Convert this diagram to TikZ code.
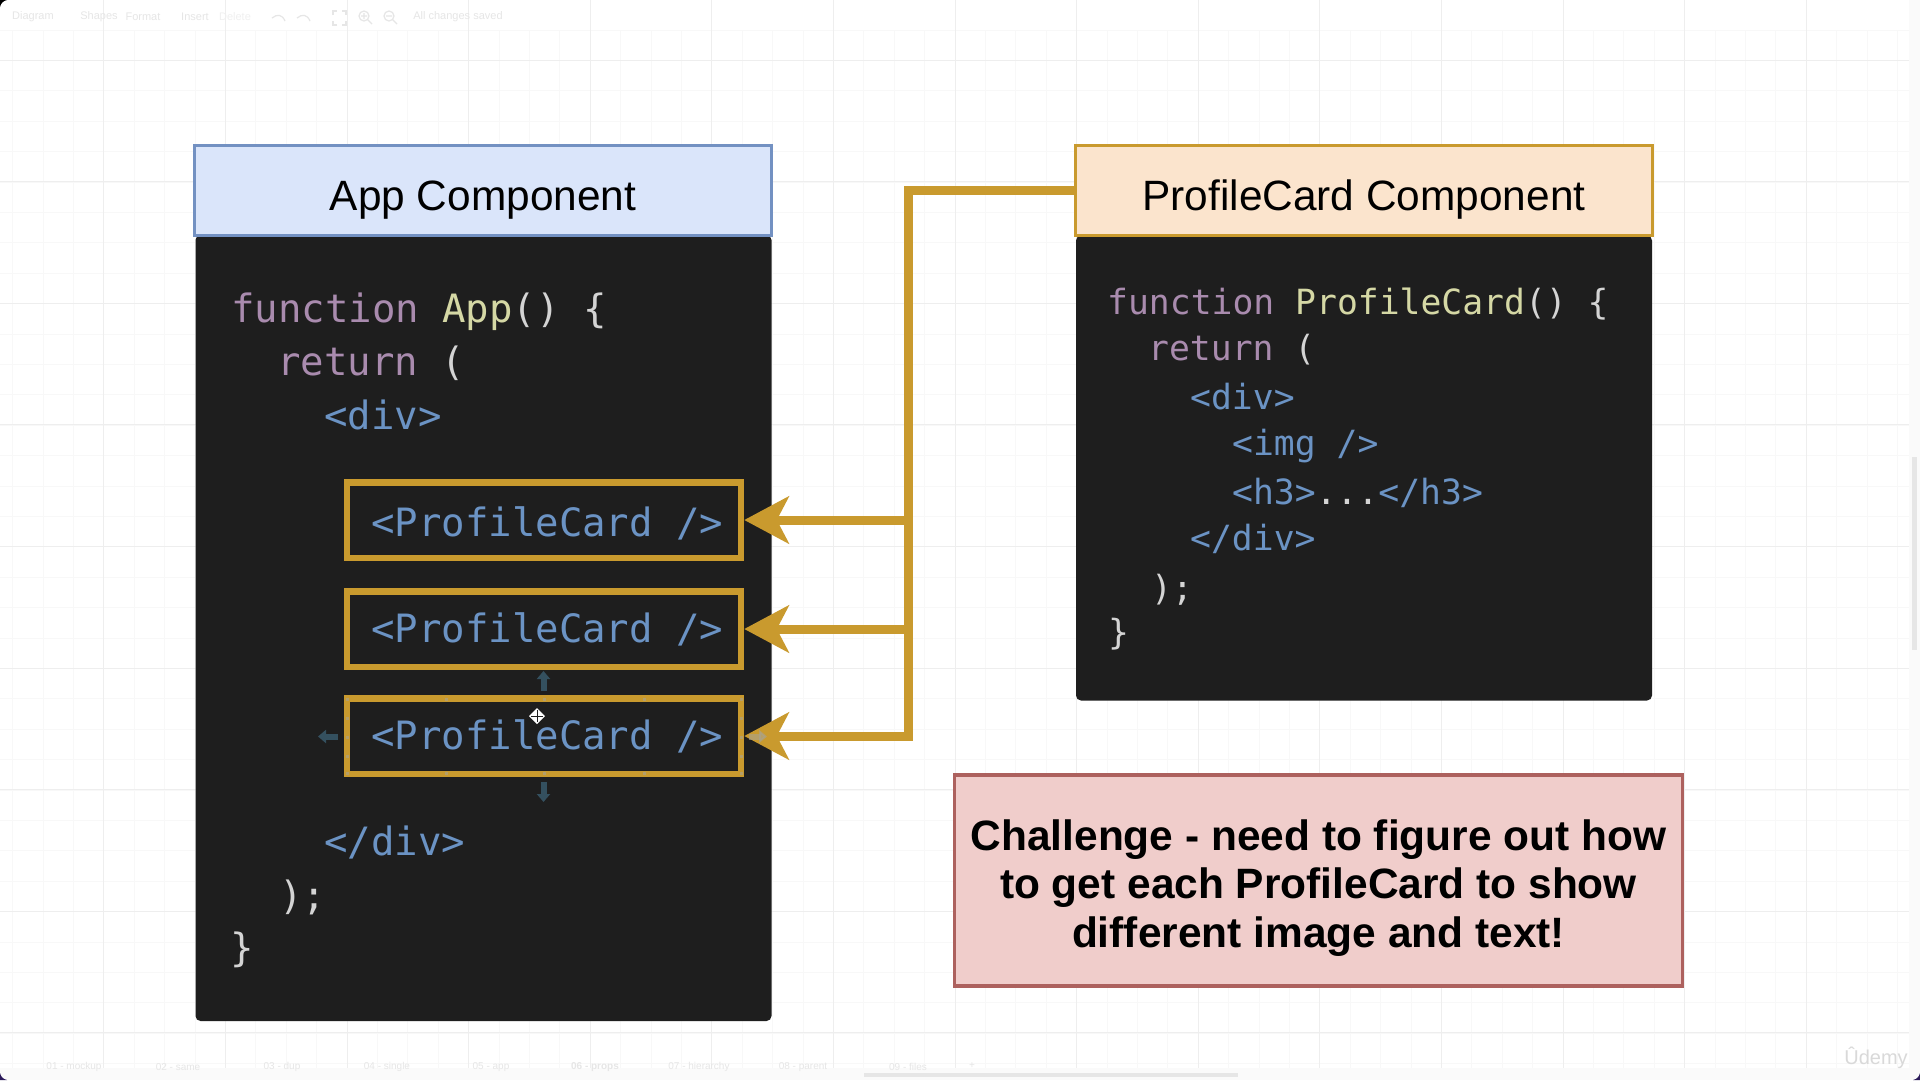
\documentclass[tikz,border=0pt]{standalone}
\usepackage{fontspec}
\setmainfont{Liberation Sans}
\setmonofont{DejaVu Sans Mono}
\usepackage{tikz}
\usetikzlibrary{arrows.meta}
\definecolor{appfill}{HTML}{DAE5FA}
\definecolor{appedge}{HTML}{7391C2}
\definecolor{cardfill}{HTML}{FBE4CD}
\definecolor{gold}{HTML}{C99A2E}
\definecolor{notefill}{HTML}{F0CDCB}
\definecolor{noteedge}{HTML}{AD615E}
\definecolor{editor}{HTML}{1E1E1E}
\definecolor{kwpurple}{HTML}{A98BAE}
\definecolor{fnyellow}{HTML}{D5D8A5}
\definecolor{tagblue}{HTML}{6B93C4}
\definecolor{plain}{HTML}{D4D4D4}
\definecolor{gridmajor}{HTML}{EEEEEE}
\definecolor{gridminor}{HTML}{F8F8F8}
\definecolor{faint}{HTML}{E6E6E6}
\definecolor{gutter}{HTML}{FAFAFA}
\definecolor{handle}{HTML}{34505F}
\definecolor{grip}{HTML}{A8A390}
\definecolor{corner}{HTML}{2B1A5A}
\tikzstyle{header}=[rectangle, draw, line width=3pt, minimum height=90pt, minimum width=577pt, text=black, font=\fontsize{42.4}{48}\selectfont, text height=39.5pt, text depth=0pt]
\tikzstyle{editorbox}=[rectangle, rounded corners=5pt, fill=editor, minimum width=576pt, inner sep=0pt]
\tikzstyle{cardbox}=[rectangle, draw=gold, line width=6.5pt, minimum height=75.5pt, minimum width=394pt]
\tikzstyle{codebig}=[anchor=base west, inner sep=0pt, font=\ttfamily\fontsize{39}{39}\selectfont]
\tikzstyle{codesmall}=[anchor=base west, inner sep=0pt, font=\ttfamily\fontsize{34.7}{35}\selectfont]
\tikzstyle{note}=[rectangle, draw=noteedge, fill=notefill, line width=3.5pt, minimum height=211pt, minimum width=728pt]
\tikzstyle{notetext}=[align=center, inner sep=0pt, font=\bfseries\fontsize{42.45}{48.5}\selectfont]
\tikzstyle{trunk}=[draw=gold, line width=9pt]
\tikzstyle{feed}=[draw=gold, line width=9pt, -{Stealth[length=44.5pt,width=47pt,inset=12pt]}]
\tikzstyle{chrome}=[inner sep=0pt, text=faint, font=\fontsize{11}{12}\selectfont]
\tikzstyle{tabname}=[inner sep=0pt, text=faint, font=\fontsize{10}{12}\selectfont]
\tikzstyle{nudge}=[draw=handle, line width=6pt, -{Triangle[length=8pt,width=13pt]}]
\tikzstyle{toolicon}=[draw=faint, line width=1.2pt]
\newcommand{\codebig}[4]{
	\node[codebig] (#1) at (#2) {\textcolor{#3}{#4}};}
\newcommand{\codesmall}[4]{
	\node[codesmall] (#1) at (#2) {\textcolor{#3}{#4}};}
\newcommand{\chromelabel}[3]{
	\node[chrome] (#1) at (#2) {#3};}
\newcommand{\tablabel}[3]{
	\node[tabname] (#1) at (#2) {#3};}
\begin{document}
\begin{tikzpicture}[x=1pt,y=-1pt]
	\useasboundingbox (0,0) rectangle (1920,1080);
	\fill[white] (0,0) rectangle (1920,1080);
	% grid
	\foreach \gx in {0,...,64} {
		\draw[gridminor, line width=1pt] ({-17.7+30.4*\gx},30) -- ({-17.7+30.4*\gx},1068);}
	\foreach \gy in {0,...,34} {
		\draw[gridminor, line width=1pt] (0,{30+30.4*\gy}) -- (1920,{30+30.4*\gy});}
	\foreach \gx in {0,...,16} {
		\draw[gridmajor, line width=1pt] ({-17.7+121.6*\gx},0) -- ({-17.7+121.6*\gx},1068);}
	\foreach \gy in {0,...,8} {
		\draw[gridmajor, line width=1pt] (0,{60+121.6*\gy}) -- (1920,{60+121.6*\gy});}
	\fill[gutter] (1909,0) rectangle (1920,1080);
	\fill[gutter] (0,1068) rectangle (1920,1080);
	\fill[faint] (1912,457) rectangle (1917,650);
	\fill[faint] (864,1073) rectangle (1238,1077);
	% editor chrome
	\chromelabel{chdiagram}{33,17}{Diagram}
	\chromelabel{chshapes}{99,17}{Shapes}
	\chromelabel{chformat}{143,17}{Format}
	\chromelabel{chinsert}{195,17}{Insert}
	\node[chrome, text=gutter!50!faint] (chdelete) at (235,17) {Delete};
	\chromelabel{chsaved}{458,17}{All changes saved}
	\draw[toolicon] (285,21) .. controls (282,14) and (277,14) .. (272,18);
	\draw[toolicon] (297,18) .. controls (302,14) and (307,14) .. (310,21);
	\draw[toolicon] (333,15) -- (333,11) -- (337,11) (342,11) -- (346,11) -- (346,15) (346,21) -- (346,25) -- (342,25) (337,25) -- (333,25) -- (333,21);
	\draw[toolicon] (364,16) circle[radius=5pt] (368,20) -- (372,24) (361,16) -- (367,16) (364,13) -- (364,19);
	\draw[toolicon] (389,16) circle[radius=5pt] (393,20) -- (397,24) (386,16) -- (392,16);
	\tablabel{tabone}{74,1067}{01 - mockup}
	\tablabel{tabtwo}{178,1067}{02 - same}
	\tablabel{tabthree}{282,1067}{03 - dup}
	\tablabel{tabfour}{387,1067}{04 - single}
	\tablabel{tabfive}{491,1067}{05 - app}
	\tablabel{tabsix}{595,1067}{\bfseries 06 - props}
	\tablabel{tabseven}{699,1067}{07 - hierarchy}
	\tablabel{tabeight}{803,1067}{08 - parent}
	\tablabel{tabnine}{908,1067}{09 - files}
	\tablabel{tabplus}{972,1066}{+}
	% app component
	\node[editorbox, minimum height=786pt] (appcode) at (483.5,628) {};
	\node[header, fill=appfill, draw=appedge] (apphead) at (483,190.5) {App Component};
	\codebig{appfn}{231,322}{kwpurple}{function \textcolor{fnyellow}{App}\textcolor{plain}{() \{}}
	\codebig{appret}{277,375}{kwpurple}{return \textcolor{plain}{(}}
	\codebig{appdiv}{324,429}{tagblue}{<div>}
	\codebig{appenddiv}{324,855}{tagblue}{</div>}
	\codebig{appclose}{279,909}{plain}{);}
	\codebig{appbrace}{230,961}{plain}{\}}
	% the three cards
	\node[cardbox] (cardone) at (544,520) {};
	\node[cardbox] (cardtwo) at (544,629) {};
	\node[cardbox] (cardthree) at (544,736) {};
	\codebig{cardonetext}{371,536}{tagblue}{<ProfileCard />}
	\codebig{cardtwotext}{371,642.5}{tagblue}{<ProfileCard />}
	\codebig{cardthreetext}{371,749}{tagblue}{<ProfileCard />}
	% profilecard component
	\node[editorbox, minimum height=465pt] (pccode) at (1364,468) {};
	\node[header, fill=cardfill, draw=gold] (pchead) at (1364,190.5) {ProfileCard Component};
	\codesmall{pcfn}{1107,314}{kwpurple}{function \textcolor{fnyellow}{ProfileCard}\textcolor{plain}{() \{}}
	\codesmall{pcret}{1148,360}{kwpurple}{return \textcolor{plain}{(}}
	\codesmall{pcdiv}{1190,409}{tagblue}{<div>}
	\codesmall{pcimg}{1232,455}{tagblue}{<img />}
	\codesmall{pchthree}{1232,504}{tagblue}{<h3>\textcolor{plain}{...}</h3>}
	\codesmall{pcenddiv}{1190,550}{tagblue}{</div>}
	\codesmall{pcclose}{1151,600}{plain}{);}
	\codesmall{pcbrace}{1108,644}{plain}{\}}
	% challenge note
	\node[note] (challenge) at (1318.5,880.5) {};
	\node[notetext] (challengetext) at (1318.5,888) {Challenge - need to figure out how\\to get each ProfileCard to show\\different image and text!};
	% connectors
	\coordinate (trunktop) at (908,190.5);
	\coordinate (trunkone) at (908,520);
	\coordinate (trunktwo) at (908,629);
	\coordinate (trunkthree) at (908,736);
	\path[trunk, line join=miter] (pchead.west) -- (trunktop) -- (trunkthree) -- ++(-4.5,0);
	\path[feed] (trunkone) -- (cardone.east);
	\path[feed] (trunktwo) -- (cardtwo.east);
	\path[feed] (trunkthree) -- (cardthree.east);
	% selection handles
	\coordinate (upfrom) at (543.5,691);
	\coordinate (upto) at (543.5,671);
	\coordinate (downfrom) at (543.5,782);
	\coordinate (downto) at (543.5,802);
	\coordinate (leftfrom) at (338,736.5);
	\coordinate (leftto) at (318,736.5);
	\coordinate (rightfrom) at (749,736.5);
	\coordinate (rightto) at (767,736.5);
	\draw[nudge] (upfrom) -- (upto);
	\draw[nudge] (downfrom) -- (downto);
	\draw[nudge] (leftfrom) -- (leftto);
	\draw[nudge, draw=grip, opacity=0.6] (rightfrom) -- (rightto);
	\foreach \hx in {347,446,544,644,741} {
		\fill[grip, opacity=0.6] (\hx-1.5,697.5) rectangle (\hx+1.5,700.5);
		\fill[grip, opacity=0.6] (\hx-1.5,771.5) rectangle (\hx+1.5,774.5);}
	\foreach \hy in {718,737,756} {
		\fill[grip, opacity=0.6] (345.5,\hy-1.5) rectangle (348.5,\hy+1.5);
		\fill[grip, opacity=0.6] (739.5,\hy-1.5) rectangle (742.5,\hy+1.5);}
	% cursor
	\fill[white] (537,708) -- (545,716) -- (537,724) -- (529,716) -- cycle;
	\draw[editor, line width=1pt] (537,710) -- (537,722) (531,716) -- (543,716);
	% watermark
	\node[inner sep=0pt, text=white!85!black, font=\fontsize{20}{22}\selectfont] (udemy) at (1876,1058) {Ûdemy};
	% video corners
	\fill[black] (0,0) -- (7,0) .. controls (3,1) and (1,3) .. (0,7) -- cycle;
	\fill[corner] (0,1080) -- (7,1080) .. controls (3,1079) and (1,1077) .. (0,1073) -- cycle;
	\fill[corner] (1920,1080) -- (1913,1080) .. controls (1917,1079) and (1919,1077) .. (1920,1073) -- cycle;
\end{tikzpicture}
\end{document}
